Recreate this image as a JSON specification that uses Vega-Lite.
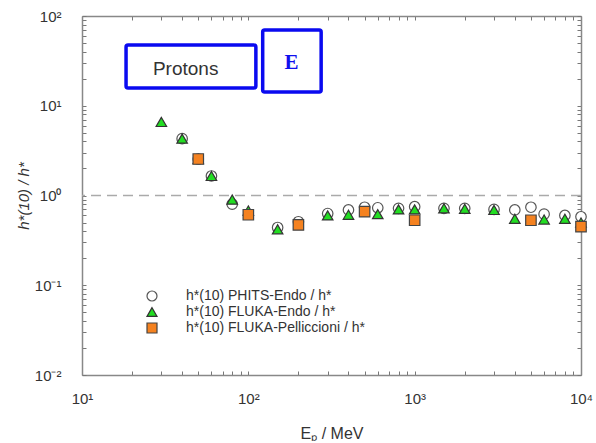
{
  "$schema": "https://vega.github.io/schema/vega-lite/v6.json",
  "width": 499,
  "height": 359,
  "padding": {"left": 16, "top": 9, "right": 5, "bottom": 0},
  "background": "white",
  "config": {
    "view": {"stroke": null},
    "axis": {"grid": false, "domainColor": "#888888", "domainWidth": 1.5, "tickColor": "#777777", "tickWidth": 1, "labelFont": "Liberation Sans", "titleFont": "Liberation Sans", "labelColor": "#333333", "titleColor": "#333333", "labelFontSize": 15, "titleFontSize": 15, "titleFontWeight": "normal", "labelOverlap": false, "labelFlush": false}
  },
  "datasets": {
    "pts": [
      {"E": 40, "v": 4.3, "s": "h*(10) PHITS-Endo / h*"},
      {"E": 50, "v": 2.55, "s": "h*(10) PHITS-Endo / h*"},
      {"E": 60, "v": 1.65, "s": "h*(10) PHITS-Endo / h*"},
      {"E": 80, "v": 0.8, "s": "h*(10) PHITS-Endo / h*"},
      {"E": 150, "v": 0.44, "s": "h*(10) PHITS-Endo / h*"},
      {"E": 200, "v": 0.51, "s": "h*(10) PHITS-Endo / h*"},
      {"E": 300, "v": 0.63, "s": "h*(10) PHITS-Endo / h*"},
      {"E": 400, "v": 0.69, "s": "h*(10) PHITS-Endo / h*"},
      {"E": 500, "v": 0.74, "s": "h*(10) PHITS-Endo / h*"},
      {"E": 600, "v": 0.73, "s": "h*(10) PHITS-Endo / h*"},
      {"E": 800, "v": 0.72, "s": "h*(10) PHITS-Endo / h*"},
      {"E": 1000, "v": 0.75, "s": "h*(10) PHITS-Endo / h*"},
      {"E": 1500, "v": 0.72, "s": "h*(10) PHITS-Endo / h*"},
      {"E": 2000, "v": 0.72, "s": "h*(10) PHITS-Endo / h*"},
      {"E": 3000, "v": 0.7, "s": "h*(10) PHITS-Endo / h*"},
      {"E": 4000, "v": 0.69, "s": "h*(10) PHITS-Endo / h*"},
      {"E": 5000, "v": 0.74, "s": "h*(10) PHITS-Endo / h*"},
      {"E": 6000, "v": 0.62, "s": "h*(10) PHITS-Endo / h*"},
      {"E": 8000, "v": 0.6, "s": "h*(10) PHITS-Endo / h*"},
      {"E": 10000, "v": 0.58, "s": "h*(10) PHITS-Endo / h*"},
      {"E": 30, "v": 6.6, "s": "h*(10) FLUKA-Endo / h*"},
      {"E": 40, "v": 4.3, "s": "h*(10) FLUKA-Endo / h*"},
      {"E": 50, "v": 2.55, "s": "h*(10) FLUKA-Endo / h*"},
      {"E": 60, "v": 1.65, "s": "h*(10) FLUKA-Endo / h*"},
      {"E": 80, "v": 0.9, "s": "h*(10) FLUKA-Endo / h*"},
      {"E": 100, "v": 0.68, "s": "h*(10) FLUKA-Endo / h*"},
      {"E": 150, "v": 0.42, "s": "h*(10) FLUKA-Endo / h*"},
      {"E": 300, "v": 0.6, "s": "h*(10) FLUKA-Endo / h*"},
      {"E": 400, "v": 0.61, "s": "h*(10) FLUKA-Endo / h*"},
      {"E": 600, "v": 0.62, "s": "h*(10) FLUKA-Endo / h*"},
      {"E": 800, "v": 0.7, "s": "h*(10) FLUKA-Endo / h*"},
      {"E": 1000, "v": 0.7, "s": "h*(10) FLUKA-Endo / h*"},
      {"E": 1500, "v": 0.72, "s": "h*(10) FLUKA-Endo / h*"},
      {"E": 2000, "v": 0.71, "s": "h*(10) FLUKA-Endo / h*"},
      {"E": 3000, "v": 0.69, "s": "h*(10) FLUKA-Endo / h*"},
      {"E": 4000, "v": 0.55, "s": "h*(10) FLUKA-Endo / h*"},
      {"E": 6000, "v": 0.54, "s": "h*(10) FLUKA-Endo / h*"},
      {"E": 8000, "v": 0.55, "s": "h*(10) FLUKA-Endo / h*"},
      {"E": 10000, "v": 0.5, "s": "h*(10) FLUKA-Endo / h*"},
      {"E": 50, "v": 2.55, "s": "h*(10) FLUKA-Pelliccioni / h*"},
      {"E": 100, "v": 0.61, "s": "h*(10) FLUKA-Pelliccioni / h*"},
      {"E": 200, "v": 0.47, "s": "h*(10) FLUKA-Pelliccioni / h*"},
      {"E": 500, "v": 0.66, "s": "h*(10) FLUKA-Pelliccioni / h*"},
      {"E": 1000, "v": 0.53, "s": "h*(10) FLUKA-Pelliccioni / h*"},
      {"E": 5000, "v": 0.53, "s": "h*(10) FLUKA-Pelliccioni / h*"},
      {"E": 10000, "v": 0.45, "s": "h*(10) FLUKA-Pelliccioni / h*"}
    ],
    "boxes": [
      {"x1": 18.4, "x2": 111, "y1": 15.8, "y2": 47.5, "label": "Protons", "tx": 42, "ty": 26},
      {"x1": 122, "x2": 274, "y1": 14.2, "y2": 69.8, "label": "E", "tx": 182, "ty": 30}
    ]
  },
  "resolve": {"axis": {"x": "independent", "y": "independent"}},
  "layer": [
    {
      "data": {"values": [{"y": 1}]},
      "mark": {"type": "rule", "color": "#aaaaaa", "strokeWidth": 1.5, "strokeDash": [10, 6]},
      "encoding": {
        "y": {"field": "y", "type": "quantitative", "scale": {"type": "log", "domain": [0.01, 100], "nice": false}, "axis": null}
      }
    },
    {
      "data": {"name": "pts"},
      "mark": {"type": "point", "filled": false, "size": 110, "strokeWidth": 1.2, "opacity": 1},
      "encoding": {
        "x": {"field": "E", "type": "quantitative", "scale": {"type": "log", "domain": [10, 10000], "nice": false},
          "axis": {"orient": "bottom", "title": "Eₚ / MeV", "titleFontSize": 16, "titlePadding": 19, "tickSize": -4, "labelPadding": 20,
            "values": [10, 20, 30, 40, 50, 60, 70, 80, 90, 100, 200, 300, 400, 500, 600, 700, 800, 900, 1000, 2000, 3000, 4000, 5000, 6000, 7000, 8000, 9000, 10000],
            "labelExpr": "abs(log(datum.value)/LN10 - round(log(datum.value)/LN10)) > 0.001 ? '' : ['10⁻²','10⁻¹','10⁰','10¹','10²','10³','10⁴'][round(log(datum.value)/LN10)+2]"}},
        "y": {"field": "v", "type": "quantitative", "scale": {"type": "log", "domain": [0.01, 100], "nice": false},
          "axis": {"orient": "left", "title": "h*(10) / h*", "titleFontStyle": "italic", "titlePadding": 3, "tickSize": -4, "labelPadding": 25,
            "values": [0.01, 0.02, 0.03, 0.04, 0.05, 0.06, 0.07, 0.08, 0.09, 0.1, 0.2, 0.3, 0.4, 0.5, 0.6, 0.7, 0.8, 0.9, 1, 2, 3, 4, 5, 6, 7, 8, 9, 10, 20, 30, 40, 50, 60, 70, 80, 90, 100],
            "labelExpr": "abs(log(datum.value)/LN10 - round(log(datum.value)/LN10)) > 0.001 ? '' : ['10⁻²','10⁻¹','10⁰','10¹','10²','10³','10⁴'][round(log(datum.value)/LN10)+2]"}},
        "shape": {"field": "s", "type": "nominal", "scale": {"domain": ["h*(10) PHITS-Endo / h*", "h*(10) FLUKA-Endo / h*", "h*(10) FLUKA-Pelliccioni / h*"], "range": ["circle", "triangle-up", "square"]},
          "legend": {"title": null, "orient": "none", "legendX": 63, "legendY": 273, "labelFont": "Liberation Sans", "labelFontSize": 14, "labelColor": "#333333", "labelOffset": 27, "labelLimit": 400, "rowPadding": 1, "symbolSize": 100, "symbolStrokeWidth": 1.2}},
        "fill": {"field": "s", "type": "nominal", "scale": {"domain": ["h*(10) PHITS-Endo / h*", "h*(10) FLUKA-Endo / h*", "h*(10) FLUKA-Pelliccioni / h*"], "range": ["#ffffff", "#22dd22", "#f58220"]}, "legend": {"title": null}},
        "stroke": {"field": "s", "type": "nominal", "scale": {"domain": ["h*(10) PHITS-Endo / h*", "h*(10) FLUKA-Endo / h*", "h*(10) FLUKA-Pelliccioni / h*"], "range": ["#555555", "#333333", "#444444"]}, "legend": {"title": null}}
      }
    },
    {
      "data": {"name": "pts"},
      "mark": {"type": "point", "opacity": 0},
      "encoding": {
        "x": {"field": "E", "type": "quantitative", "scale": {"type": "log", "domain": [10, 10000], "nice": false},
          "axis": {"orient": "top", "title": null, "labels": false, "tickSize": -4,
            "values": [10, 20, 30, 40, 50, 60, 70, 80, 90, 100, 200, 300, 400, 500, 600, 700, 800, 900, 1000, 2000, 3000, 4000, 5000, 6000, 7000, 8000, 9000, 10000]}},
        "y": {"field": "v", "type": "quantitative", "scale": {"type": "log", "domain": [0.01, 100], "nice": false},
          "axis": {"orient": "right", "title": null, "labels": false, "tickSize": -4,
            "values": [0.01, 0.02, 0.03, 0.04, 0.05, 0.06, 0.07, 0.08, 0.09, 0.1, 0.2, 0.3, 0.4, 0.5, 0.6, 0.7, 0.8, 0.9, 1, 2, 3, 4, 5, 6, 7, 8, 9, 10, 20, 30, 40, 50, 60, 70, 80, 90, 100]}}
      }
    },
    {
      "data": {"name": "boxes"},
      "mark": {"type": "rect", "fill": "white", "stroke": "#0a0af0", "strokeWidth": 3.5, "cornerRadius": 2},
      "encoding": {
        "x": {"field": "x1", "type": "quantitative", "axis": null},
        "x2": {"field": "x2"},
        "y": {"field": "y1", "type": "quantitative", "axis": null},
        "y2": {"field": "y2"}
      }
    },
    {
      "data": {"name": "boxes"},
      "transform": [{"filter": "datum.label == 'Protons'"}],
      "mark": {"type": "text", "font": "Liberation Sans", "fontSize": 19, "color": "#333333", "align": "center", "baseline": "middle"},
      "encoding": {
        "x": {"field": "tx", "type": "quantitative", "axis": null},
        "y": {"field": "ty", "type": "quantitative", "axis": null},
        "text": {"field": "label"}
      }
    },
    {
      "data": {"name": "boxes"},
      "transform": [{"filter": "datum.label == 'E'"}],
      "mark": {"type": "text", "font": "Liberation Serif", "fontSize": 21, "fontWeight": "bold", "color": "#1010ee", "align": "center", "baseline": "middle"},
      "encoding": {
        "x": {"field": "tx", "type": "quantitative", "axis": null},
        "y": {"field": "ty", "type": "quantitative", "axis": null},
        "text": {"field": "label"}
      }
    }
  ]
}
